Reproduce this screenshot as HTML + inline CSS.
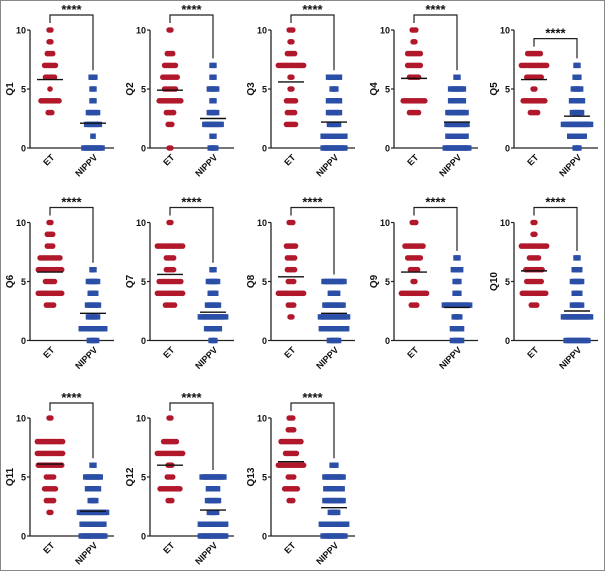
<!DOCTYPE html>
<html><head><meta charset="utf-8"><style>
html,body{margin:0;padding:0;background:#fff}
svg{display:block}
text{font-family:"Liberation Sans",Arial,sans-serif;font-weight:bold;fill:#111}
</style></head><body>
<svg id="fig" width="605" height="571" viewBox="0 0 605 571" xmlns="http://www.w3.org/2000/svg">
<rect x="0.5" y="0.5" width="604" height="570" fill="#fff" stroke="#888"/>
</svg>
<script>
const labels = ['Q1','Q2','Q3','Q4','Q5','Q6','Q7','Q8','Q9','Q10','Q11','Q12','Q13'];
const groups = ['ET','NIPPV'];
const yTicks = [0,5,10];
// counts per score value 0..10
const etCounts = [
 [0,0,0,3,11,1,6,7,4,2,2],
 [2,0,3,5,13,7,9,7,4,0,2],
 [0,0,6,5,6,2,2,15,5,2,3],
 [0,0,0,6,13,0,6,8,8,2,3],
 [0,0,0,5,13,2,9,15,8,0,0],
 [0,0,0,5,14,6,14,12,4,4,2],
 [0,0,0,6,15,13,5,5,15,0,2],
 [0,0,2,4,15,4,5,5,6,0,3],
 [0,0,0,4,15,2,5,8,11,0,3],
 [0,0,0,4,14,9,10,6,15,2,2],
 [0,0,2,5,7,5,14,15,15,0,2],
 [0,0,0,3,12,4,3,15,8,0,2],
 [0,0,0,3,8,4,15,7,12,4,3]
];
const nippvCounts = [
 [11,1,8,6,2,2,3,0,0,0,0],
 [4,2,10,5,2,5,2,2,0,0,0],
 [13,13,6,7,7,3,7,0,0,0,0],
 [14,11,12,11,8,8,2,0,0,0,0],
 [3,9,16,6,7,5,3,2,0,0,0],
 [5,14,6,7,4,6,2,0,0,0,0],
 [3,8,15,7,4,6,2,0,0,0,0],
 [6,15,16,11,5,12,0,0,0,0,0],
 [6,6,4,15,3,3,5,2,0,0,0],
 [13,0,16,6,4,6,4,2,0,0,0],
 [14,13,16,4,7,9,2,0,0,0,0],
 [15,15,5,7,6,13,0,0,0,0,0],
 [13,15,5,11,10,11,3,0,0,0,0]
];
const etMeans = [5.8,4.9,5.6,5.9,5.8,5.8,5.6,5.4,5.8,5.9,6.1,6.0,6.3];
const nippvMeans = [2.1,2.5,2.2,2.2,2.7,2.3,2.4,2.3,2.8,2.5,2.1,2.2,2.4];

const NS='http://www.w3.org/2000/svg';
const svg=document.getElementById('fig');
const colX=[30,150,271,394,514];
const rowTop=[30,222.5,418];
const span=118;
function mk(tag,attrs,parent){const e=document.createElementNS(NS,tag);for(const k in attrs)e.setAttribute(k,attrs[k]);(parent||svg).appendChild(e);return e;}

labels.forEach((lab,i)=>{
  const ax=colX[i%5], top=rowTop[Math.floor(i/5)];
  const y=v=>top+(10-v)*span/10;
  const g=mk('g',{});
  
  
  const ya=mk('line',{x1:ax,y1:y(10),x2:ax,y2:y(0),stroke:'#222','stroke-width':1.3},g);
  
  
  const xa=mk('line',{x1:ax,y1:y(0),x2:ax+84,y2:y(0),stroke:'#222','stroke-width':1.3},g);
  
  
  yTicks.forEach(t=>{
    mk('line',{x1:ax-3,y1:y(t),x2:ax,y2:y(t),stroke:'#222','stroke-width':1.2},g);
    const tl=mk('text',{x:ax-4,y:y(t)+3.5,'font-size':9,'text-anchor':'end'},g);
    tl.textContent=t;
    
    
  });
  const yl=mk('text',{x:0,y:0,'font-size':10,'text-anchor':'middle',transform:`translate(${ax-17},${y(5)}) rotate(-90)`},g);
  yl.textContent=lab;
  
  
  const cx=[ax+20,ax+63];
  groups.forEach((gr,gi)=>{
    const xl=mk('text',{x:0,y:0,'font-size':9,'text-anchor':'end',transform:`translate(${cx[gi]+5},${y(0)+10}) rotate(-45)`},g);
    xl.textContent=gr;
    
    
  });
  const sets=[etCounts[i],nippvCounts[i]];
  sets.forEach((cnts,gi)=>{
    cnts.forEach((n,v)=>{
      if(!n) return;
      const w=(n-1)*1.8;
      for(let k=0;k<n;k++){
        const px=cx[gi]-w/2+k*1.8;
        let m;
        if(gi===0) m=mk('circle',{cx:px,cy:y(v),r:2.8,fill:'#b1182b'},g);
        else m=mk('rect',{x:px-2.8,y:y(v)-2.7,width:5.6,height:5.4,fill:'#2b4ea6'},g);
        
        
      }
    });
  });
  [etMeans[i],nippvMeans[i]].forEach((mv,gi)=>{
    const ml=mk('line',{x1:cx[gi]-13,x2:cx[gi]+13,y1:y(mv),y2:y(mv),stroke:'#111','stroke-width':1.4},g);
    
    
  });
  const maxV=a=>{let m=0;a.forEach((n,v)=>{if(n)m=v;});return m;};
  const me=maxV(etCounts[i]), mn=maxV(nippvCounts[i]);
  const bt=y(Math.max(me,mn))-15;
  const br=mk('path',{d:`M${cx[0]},${y(me)-7} V${bt} H${cx[1]} V${y(mn)-7}`,fill:'none',stroke:'#222','stroke-width':1.2},g);
  
  
  const st=mk('text',{x:(cx[0]+cx[1])/2,y:bt-1,'font-size':13,'text-anchor':'middle'},g);
  st.textContent='****';
  
  
});
</script>
</body></html>
